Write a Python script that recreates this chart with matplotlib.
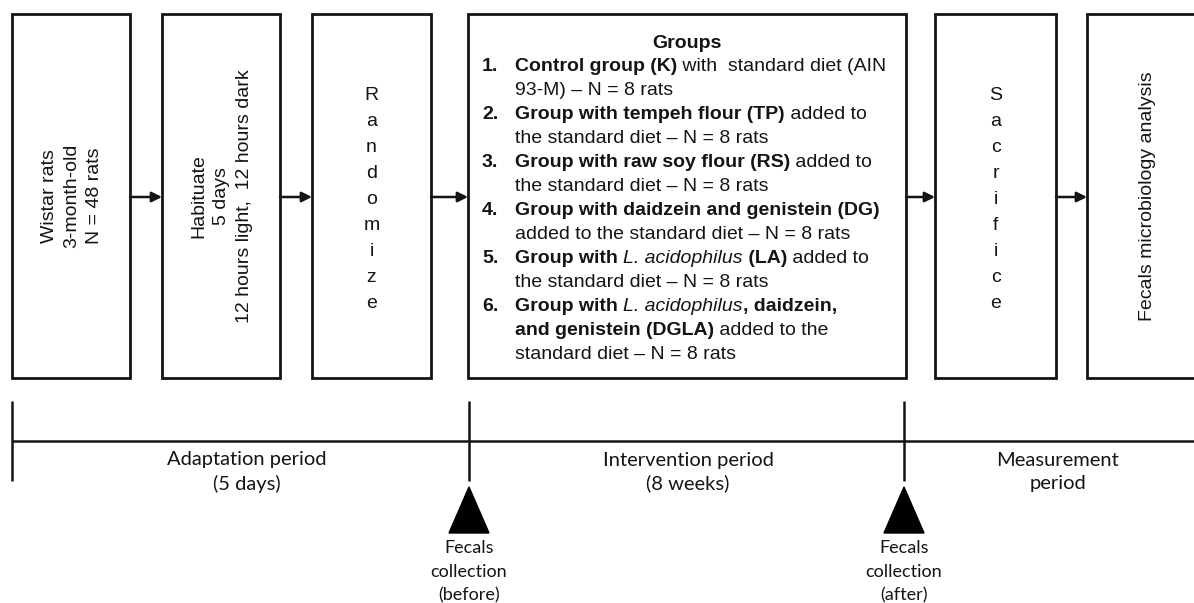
import matplotlib
matplotlib.use("Agg")
import matplotlib.pyplot as plt
from matplotlib.patches import Rectangle, Polygon

# --- content ---
box_labels = [
    "Wistar rats\n3-month-old\nN = 48 rats",
    "Habituate\n5 days\n12 hours light,  12 hours dark",
    "Randomize",
    None,  # groups box, drawn separately
    "Sacrifice",
    "Fecals microbiology analysis",
]
box_stacked = [False, False, True, False, True, False]

groups_title = "Groups"
group_numbers = ["1.", "2.", "3.", "4.", "5.", "6."]
# each group: list of lines, each line a list of (text, style) runs
group_lines = [
    [[("Control group (K)", "bold"), (" with  standard diet (AIN", "normal")],
     [("93-M) – N = 8 rats", "normal")]],
    [[("Group with tempeh flour (TP)", "bold"), (" added to", "normal")],
     [("the standard diet – N = 8 rats", "normal")]],
    [[("Group with raw soy flour (RS)", "bold"), (" added to", "normal")],
     [("the standard diet – N = 8 rats", "normal")]],
    [[("Group with daidzein and genistein (DG)", "bold")],
     [("added to the standard diet – N = 8 rats", "normal")]],
    [[("Group with ", "bold"), ("L. acidophilus", "italic"), (" (LA)", "bold"), (" added to", "normal")],
     [("the standard diet – N = 8 rats", "normal")]],
    [[("Group with ", "bold"), ("L. acidophilus", "italic"), (", daidzein,", "bold")],
     [("and genistein (DGLA)", "bold"), (" added to the", "normal")],
     [("standard diet – N = 8 rats", "normal")]],
]

period_labels = ["Adaptation period\n(5 days)", "Intervention period\n(8 weeks)", "Measurement\nperiod"]
collection_labels = ["Fecals\ncollection\n(before)", "Fecals\ncollection\n(after)"]

# --- layout (pixel coordinates) ---
W, H = 1194, 603
box_left = [12, 162, 312, 468, 935, 1087]
box_right = [130, 280, 431, 906, 1056, 1206]
box_top, box_bottom = 14, 378
arrow_y = 197
line_y = 441
tick_x = [12, 469, 904]
period_x = [247, 688, 1058]
ink = "#141414"
box_font = "Liberation Sans"
time_font = "Lato"

fig = plt.figure(figsize=(W / 100, H / 100), dpi=100)
ax = fig.add_axes([0, 0, 1, 1])
ax.set_xlim(0, W)
ax.set_ylim(H, 0)
ax.axis("off")

# boxes
for x0, x1, label, stacked in zip(box_left, box_right, box_labels, box_stacked):
    ax.add_patch(Rectangle((x0, box_top), x1 - x0, box_bottom - box_top,
                           facecolor="white", edgecolor=ink, lw=2.0))
    cx = (x0 + x1) / 2
    cy = (box_top + box_bottom) / 2
    if label is None:
        continue
    if stacked:
        n = len(label)
        for i, ch in enumerate(label):
            ax.text(cx, cy + 3 + (i - (n - 1) / 2) * 26, ch, fontsize=14, family=box_font,
                    ha="center", va="center", color=ink)
    else:
        ax.text(cx + 1, cy, label, fontsize=14, family=box_font, rotation=90,
                ha="center", va="center", multialignment="center",
                linespacing=1.45, color=ink)

# arrows between boxes
for i in range(len(box_left) - 1):
    ax.annotate("", xy=(box_left[i + 1], arrow_y), xytext=(box_right[i], arrow_y),
                arrowprops=dict(arrowstyle="-|>", lw=1.8, color=ink,
                                mutation_scale=15, shrinkA=0, shrinkB=0))

# groups box text
renderer = fig.canvas.get_renderer()
gx0, gx1 = box_left[3], box_right[3]
size = 14
ax.text((gx0 + gx1) / 2, 48, groups_title, fontsize=size, family=box_font,
        weight="bold", ha="center", va="baseline", color=ink)


def draw_runs(x, y, runs):
    for s, style in runs:
        kw = {"weight": "bold"} if style == "bold" else ({"style": "italic"} if style == "italic" else {})
        t = ax.text(x, y, s, fontsize=size, family=box_font, ha="left", va="baseline",
                    color=ink, **kw)
        fp = t.get_fontproperties()
        wbar = renderer.get_text_width_height_descent("|", fp, ismath=False)[0]
        w = renderer.get_text_width_height_descent(s + "|", fp, ismath=False)[0] - wbar
        x += w
    return x


y = 71
step = 24
for num, lines in zip(group_numbers, group_lines):
    ax.text(482, y, num, fontsize=size, family=box_font, weight="bold",
            ha="left", va="baseline", color=ink)
    for runs in lines:
        draw_runs(515, y, runs)
        y += step

# timeline
ax.plot([tick_x[0], W], [line_y, line_y], color=ink, lw=1.8, solid_capstyle="butt")
for tx in tick_x:
    ax.plot([tx, tx], [401, 481], color=ink, lw=1.8, solid_capstyle="butt")

for px, lab in zip(period_x, period_labels):
    ax.text(px, 472, lab, fontsize=14.5, family=time_font, ha="center", va="center",
            linespacing=1.4, color=ink)

for tx, lab in zip(tick_x[1:], collection_labels):
    ax.add_patch(Polygon([(tx - 20, 533), (tx + 20, 533), (tx, 487)], closed=True,
                         facecolor="black", edgecolor="black"))
    ax.text(tx, 572, lab, fontsize=13, family=time_font, ha="center", va="center",
            linespacing=1.6, color=ink)

fig.savefig("out.png", dpi=100)
